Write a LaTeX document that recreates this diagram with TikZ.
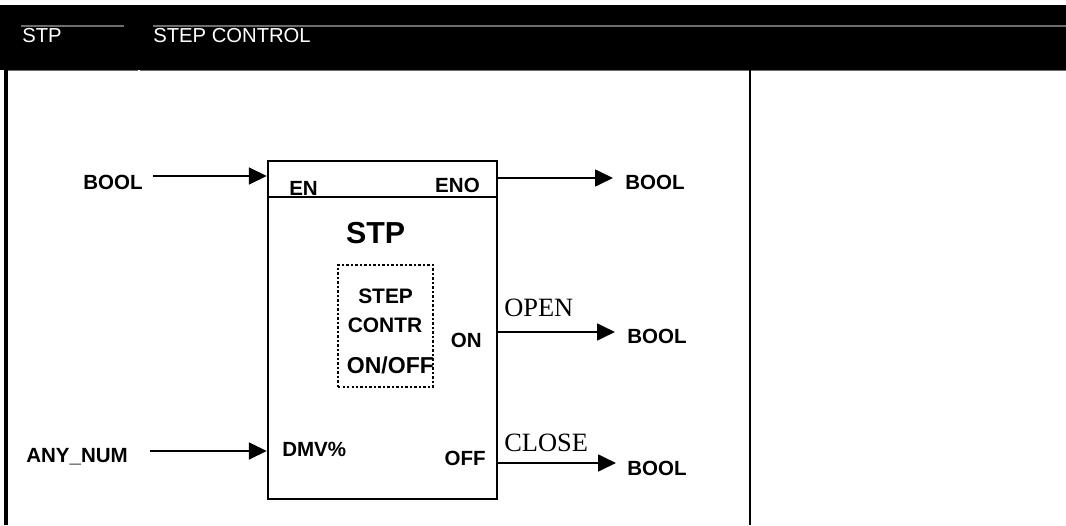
\documentclass[tikz,border=0pt]{standalone}
\usepackage{fontspec}
\setmainfont{Liberation Serif}
\setsansfont{Liberation Sans}
\usetikzlibrary{arrows.meta}
\definecolor{rulegray}{HTML}{6E6E6E}
\tikzset{head/.style = {font = \sffamily\fontsize{14.4}{16}\selectfont, text = white, inner sep = 0pt}}
\tikzset{pin/.style = {font = \sffamily\bfseries\fontsize{14.6}{16}\selectfont, inner sep = 0pt}}
\tikzset{signal/.style = {font = \fontsize{18.8}{20}\selectfont, inner sep = 0pt}}
\tikzset{fblock/.style = {draw, line width = 1.7pt, minimum width = 5.725cm, minimum height = 8.45cm, inner sep = 0pt}}
\tikzset{wire/.style = {line width = 1.5pt, -{Triangle[length = 12.8pt, width = 12pt]}}}

\begin{document}
\begin{tikzpicture}
\useasboundingbox (0, 0) rectangle (26.65, 13.125);
% header band
\fill[black] (0, 11.375) rectangle (26.65, 13.0);
\draw[rulegray, line width = 0.8pt] (0.525, 12.475) -- (3.1, 12.475) (3.825, 12.475) -- (26.65, 12.475);
\draw[rulegray, line width = 1pt] (0.175, 11.36) -- (3.45, 11.36) (3.5, 11.36) -- (26.65, 11.36);
\node[head, anchor = base west] (code) at (0.55, 12.05) {STP};
\node[head, anchor = base west] (title) at (3.825, 12.05) {STEP CONTROL};
% frame
\draw[line width = 2.5pt] (0.15, 11.375) -- (0.15, 0);
\draw[line width = 1.4pt] (18.76, 11.375) -- (18.76, 0);

% function block
\node[fblock] (stp) at (9.5625, 4.875) {};
\coordinate (div) at (0, 8.2);
\draw[line width = 1.7pt] (stp.west |- div) -- (stp.east |- div);
\node[pin, anchor = base west] (en) at (7.225, 8.25) {EN};
\node[pin, anchor = base east] (eno) at (12.0, 8.3) {ENO};
\node[inner sep = 0pt, anchor = base, font = \sffamily\bfseries\fontsize{21.6}{24}\selectfont] (name) at (9.39, 7.05) {STP};
\node[draw, line width = 1.6pt, dash pattern = on 1.6pt off 1.6pt, minimum width = 2.375cm, minimum height = 3.05cm] (ctrl) at (9.6375, 4.975) {};
\node[pin, anchor = base, font = \sffamily\bfseries\fontsize{14.9}{16}\selectfont] (step) at (9.64, 5.55) {STEP};
\node[pin, anchor = base, font = \sffamily\bfseries\fontsize{14.9}{16}\selectfont] (contr) at (9.625, 4.825) {CONTR};
\node[pin, anchor = base, font = \sffamily\bfseries\fontsize{16.4}{18}\selectfont] (onoff) at (9.76, 3.8) {ON/OFF};
\node[pin, anchor = base east] (on) at (12.05, 4.45) {ON};
\node[pin, anchor = base west] (dmv) at (7.05, 1.725) {DMV\%};
\node[pin, anchor = base east] (off) at (12.15, 1.5) {OFF};

% inputs
\node[pin, anchor = base east] (boolin) at (3.575, 8.4) {BOOL};
\node[pin, anchor = base west] (anynum) at (0.65, 1.575) {ANY\_NUM};
\coordinate (enin) at (3.825, 8.725);
\coordinate (dmvin) at (3.75, 1.85);
\draw[wire] (enin) -- (enin -| stp.west);
\draw[wire] (dmvin) -- (dmvin -| stp.west);

% outputs
\coordinate (enoout) at (15.325, 8.675);
\coordinate (onout) at (15.375, 4.825);
\coordinate (offout) at (15.4, 1.55);
\draw[wire] (enoout -| stp.east) -- (enoout);
\draw[wire] (onout -| stp.east) -- (onout);
\draw[wire] (offout -| stp.east) -- (offout);
\node[pin, anchor = base west] (boolen) at (15.625, 8.4) {BOOL};
\node[pin, anchor = base west] (boolon) at (15.675, 4.55) {BOOL};
\node[pin, anchor = base west] (booloff) at (15.675, 1.25) {BOOL};
\node[signal, anchor = base west] (open) at (12.6, 5.225) {OPEN};
\node[signal, anchor = base west] (close) at (12.6, 1.85) {CLOSE};
\end{tikzpicture}
\end{document}
